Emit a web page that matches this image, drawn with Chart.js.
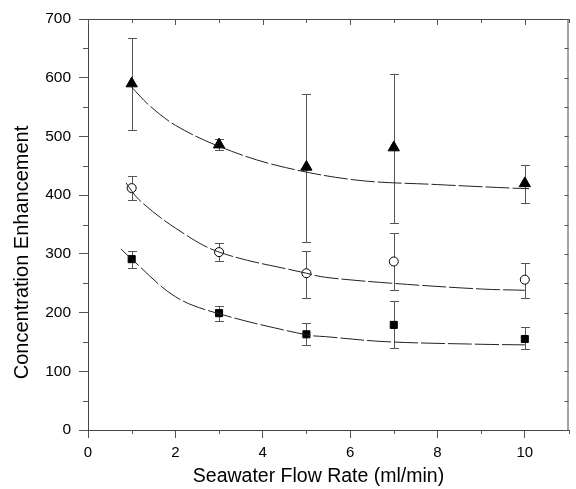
<!DOCTYPE html>
<html>
<head>
<meta charset="utf-8">
<script src="https://cdn.jsdelivr.net/npm/chart.js@4"></script>
<style>
  html, body { margin: 0; padding: 0; background: #fff; }
  #wrap { width: 576px; height: 489px; }
</style>
</head>
<body>
<div id="wrap"><canvas id="myChart" width="576" height="489"></canvas></div>
<script>
// flow rates (ml/min)
var flowRates = [1, 3, 5, 7, 10];

// triangles
var triMean = [590, 486, 448, 481, 420];
var triHi   = [668, 495, 573, 606, 451];
var triLo   = [511, 477, 320, 353, 386];

// open circles
var circMean = [412, 303, 267, 287, 256];
var circHi   = [433, 318, 305, 335, 284];
var circLo   = [392, 288, 224, 238, 225];

// squares
var sqMean = [291, 199, 163, 179, 155];
var sqHi   = [305, 211, 183, 220, 175];
var sqLo   = [276, 186, 144, 140, 138];

// fitted curves
var triFitX = [1.0, 1.4, 2.0, 3.0, 4.3, 6.1, 8.0, 9.7, 10.1];
var triFitY = [584, 553, 519, 483, 451, 426, 418, 412, 411];
var circFitX = [0.87, 1.17, 2.0, 3.0, 5.0, 5.44, 6.94, 9.03, 10.0];
var circFitY = [421, 392, 344, 303, 267, 260, 250, 240, 238];
var sqFitX = [0.76, 1.0, 2.0, 3.0, 5.0, 5.44, 6.8, 9.0, 10.0];
var sqFitY = [308, 291, 227, 198, 162, 159, 150.5, 146, 145];

var xTitle = 'Seawater Flow Rate (ml/min)';
var yTitle = 'Concentration Enhancement';

function toPoints(xs, ys) {
    var pts = [];
    for (var i = 0; i < xs.length; i++) {
        pts.push({ x: xs[i], y: ys[i] });
    }
    return pts;
}

function isMajorX(v) { return v % 2 === 0; }
function isMajorY(v) { return v % 100 === 0; }

var fontFam = "Arial, 'Liberation Sans', sans-serif";

// error bars drawn under the markers
var errorBars = {
    id: 'errorBars',
    beforeDatasetsDraw: function(chart) {
        var ctx = chart.ctx;
        var xs = chart.scales.x, ys = chart.scales.y;
        var sets = [[triHi, triLo], [circHi, circLo], [sqHi, sqLo]];
        ctx.save();
        ctx.strokeStyle = '#555';
        ctx.lineWidth = 1;
        sets.forEach(function(s) {
            for (var i = 0; i < flowRates.length; i++) {
                var px = Math.round(xs.getPixelForValue(flowRates[i])) + 0.5;
                var top = Math.round(ys.getPixelForValue(s[0][i])) + 0.5;
                var bot = Math.round(ys.getPixelForValue(s[1][i])) + 0.5;
                ctx.beginPath();
                ctx.moveTo(px, top); ctx.lineTo(px, bot);
                ctx.moveTo(px - 4.5, top); ctx.lineTo(px + 4.5, top);
                ctx.moveTo(px - 4.5, bot); ctx.lineTo(px + 4.5, bot);
                ctx.stroke();
            }
        });
        ctx.restore();
    }
};

// top/right frame, inward ticks there, short minor ticks outside, axis titles
var frame = {
    id: 'frame',
    afterDraw: function(chart) {
        var ctx = chart.ctx;
        var a = chart.chartArea;
        var xs = chart.scales.x, ys = chart.scales.y;
        ctx.save();
        ctx.strokeStyle = '#444';
        ctx.lineWidth = 1;
        ctx.beginPath();
        ctx.moveTo(a.left - 8, a.top + 0.5); ctx.lineTo(a.right, a.top + 0.5);
        ctx.moveTo(a.right - 0.5, a.top); ctx.lineTo(a.right - 0.5, a.bottom);
        ctx.stroke();
        ctx.strokeStyle = '#555';
        ctx.beginPath();
        xs.ticks.forEach(function(t) {
            var px = Math.round(xs.getPixelForValue(t.value)) + 0.5;
            ctx.moveTo(px, a.top); ctx.lineTo(px, a.top + (isMajorX(t.value) ? 6 : 4));
            if (!isMajorX(t.value)) {
                ctx.moveTo(px, a.bottom); ctx.lineTo(px, a.bottom + 4);
            }
        });
        ys.ticks.forEach(function(t) {
            var py = Math.round(ys.getPixelForValue(t.value)) + 0.5;
            ctx.moveTo(a.right, py); ctx.lineTo(a.right - 4, py);
            if (!isMajorY(t.value)) {
                ctx.moveTo(a.left, py); ctx.lineTo(a.left - 5, py);
            }
        });
        ctx.stroke();

        // axis titles (sit a little off-centre in the original)
        ctx.fillStyle = '#000';
        ctx.textAlign = 'center';
        ctx.textBaseline = 'alphabetic';
        ctx.font = '19.5px ' + fontFam;
        ctx.fillText(xTitle, 318.5, 482);
        ctx.translate(28, 252.5);
        ctx.rotate(-Math.PI / 2);
        ctx.font = '20px ' + fontFam;
        ctx.fillText(yTitle, 0, 0);
        ctx.restore();
    }
};

var fitStyle = {
    showLine: true,
    borderColor: '#222',
    borderWidth: 1,
    borderDash: [24, 3],
    pointRadius: 0,
    tension: 0.35,
    fill: false
};

var ctx = document.getElementById('myChart').getContext('2d');
new Chart(ctx, {
    type: 'scatter',
    data: {
        datasets: [
            Object.assign({ data: toPoints(triFitX, triFitY) }, fitStyle),
            Object.assign({ data: toPoints(circFitX, circFitY) }, fitStyle),
            Object.assign({ data: toPoints(sqFitX, sqFitY) }, fitStyle),
            {
                data: toPoints(flowRates, triMean),
                pointStyle: 'triangle', pointRadius: 6.5,
                backgroundColor: '#000', borderColor: '#000', borderWidth: 1
            },
            {
                data: toPoints(flowRates, circMean),
                pointStyle: 'circle', pointRadius: 4.5,
                backgroundColor: '#fff', borderColor: '#000', borderWidth: 1
            },
            {
                data: toPoints(flowRates, sqMean),
                pointStyle: 'rect', pointRadius: 5,
                backgroundColor: '#000', borderColor: '#000', borderWidth: 1
            }
        ]
    },
    options: {
        responsive: false,
        animation: false,
        layout: { padding: { top: 19, right: 1, left: 0, bottom: 0 } },
        plugins: { legend: { display: false }, tooltip: { enabled: false } },
        scales: {
            x: {
                type: 'linear',
                min: 0, max: 11,
                afterFit: function(s) { s.height = 59; },
                border: { display: true, color: '#444', width: 1 },
                grid: {
                    drawOnChartArea: false, drawTicks: true, tickLength: 8, color: '#555',
                    tickColor: function(c) { return c.tick && isMajorX(c.tick.value) ? '#555' : 'rgba(0,0,0,0)'; }
                },
                ticks: {
                    stepSize: 1, includeBounds: false, autoSkip: false, maxRotation: 0,
                    padding: 6, color: '#000', font: { family: fontFam, size: 15 },
                    callback: function(v) { return isMajorX(v) ? String(v) : ''; }
                },
                title: { display: false }
            },
            y: {
                min: 0, max: 700,
                afterFit: function(s) { s.width = 88; },
                border: { display: true, color: '#444', width: 1 },
                grid: {
                    drawOnChartArea: false, drawTicks: true, tickLength: 9, color: '#555',
                    tickColor: function(c) { return c.tick && isMajorY(c.tick.value) ? '#555' : 'rgba(0,0,0,0)'; }
                },
                ticks: {
                    stepSize: 50, maxTicksLimit: 20, autoSkip: false,
                    padding: 8, color: '#000', font: { family: fontFam, size: 15.5 },
                    callback: function(v) { return isMajorY(v) ? String(v) : ''; }
                },
                title: { display: false }
            }
        }
    },
    plugins: [errorBars, frame]
});
</script>
</body>
</html>
